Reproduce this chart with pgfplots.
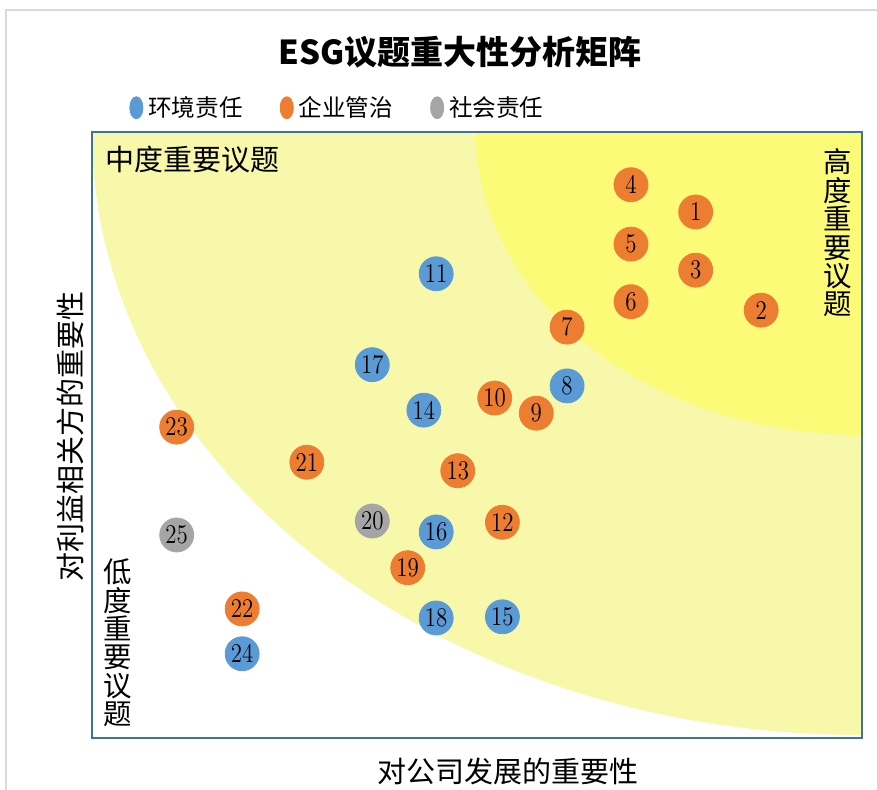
\documentclass[border=0pt]{standalone}
\usepackage{pgfplots}
\pgfplotsset{compat=1.18}
\usepackage{fontspec}
\newfontfamily\cjk{Noto Sans CJK SC}
\definecolor{cblue}{HTML}{5B9BD5}
\definecolor{corange}{HTML}{ED7D31}
\definecolor{cgray}{HTML}{A5A5A5}
\definecolor{paley}{HTML}{F8F8AA}
\definecolor{brighty}{HTML}{FBFB78}
\definecolor{axblue}{HTML}{41719C}
\definecolor{frame}{HTML}{D9D9D9}
\newcommand{\legtext}[1]{\scalebox{1.18}{\cjk #1}}

\pgfplotstableread{
x y label
6.17 5.81 8
4.47 7.66 11
4.31 5.41 14
5.33 2.00 15
4.47 3.40 16
3.64 6.16 17
4.47 1.98 18
1.95 1.39 24
}\envdata
\pgfplotstableread{
x y label
7.84 8.68 1
8.69 7.06 2
7.84 7.72 3
7.00 9.13 4
7.00 8.15 5
7.00 7.20 6
6.17 6.78 7
5.77 5.36 9
5.23 5.61 10
5.33 3.56 12
4.75 4.41 13
4.10 2.81 19
2.79 4.55 21
1.95 2.13 22
1.10 5.13 23
}\govdata
\pgfplotstableread{
x y label
3.64 3.58 20
1.10 3.35 25
}\socdata

\begin{document}
\begin{tikzpicture}
\path[use as bounding box] (0,0) rectangle (438.5pt,395pt);
\draw[frame, line width=1pt] (3pt,-10pt) -- (3pt,390pt) -- (450pt,390pt);
\begin{scope}
\clip (46pt,26pt) rectangle (431pt,329pt);
\fill[paley] (431pt,329pt) ellipse [x radius=385pt, y radius=301.5pt];
\fill[brighty] (431pt,329pt) ellipse [x radius=193pt, y radius=151.5pt];
\end{scope}
\begin{axis}[
  at={(46pt,26pt)}, anchor=south west,
  width=385pt, height=303pt, scale only axis,
  xmin=0, xmax=10, ymin=0, ymax=10,
  xtick=\empty, ytick=\empty,
  axis line style={axblue, line width=1pt},
  clip=false,
  xlabel={\cjk 对公司发展的重要性},
  ylabel={\cjk 对利益相关方的重要性},
  xlabel style={font=\fontsize{14.5}{14.5}\selectfont, at={(axis description cs:0.54,-0.056)}, anchor=center},
  ylabel style={font=\fontsize{14.5}{14.5}\selectfont, at={(axis description cs:-0.0286,0.497)}, anchor=center},
  legend style={at={(axis description cs:0.048,1.04)}, anchor=west, draw=none, fill=none,
    inner sep=0pt,
    nodes={inner xsep=2.5pt, inner ysep=1.5pt},
    /tikz/every even column/.append style={column sep=16pt}},
  legend columns=3,
  every axis plot/.append style={only marks, mark=*, mark size=8.5pt,
    point meta=explicit symbolic,
    nodes near coords={\scalebox{0.85}[1]{\pgfplotspointmeta}},
    nodes near coords align=center,
    every node near coord/.append style={font=\fontsize{13.5}{13.5}\selectfont, text=black, inner sep=0pt}},
]
\addplot[color=cblue, mark options={draw=none, fill=cblue},
  legend image code/.code={\fill[cblue] (0pt,0pt) ellipse [x radius=3.3pt, y radius=5.5pt];}]
  table[x=x, y=y, meta=label] {\envdata};
\addlegendentry{\legtext{环境责任}}
\addplot[color=corange, mark options={draw=none, fill=corange},
  legend image code/.code={\fill[corange] (0pt,0pt) ellipse [x radius=3.3pt, y radius=5.5pt];}]
  table[x=x, y=y, meta=label] {\govdata};
\addlegendentry{\legtext{企业管治}}
\addplot[color=cgray, mark options={draw=none, fill=cgray},
  legend image code/.code={\fill[cgray] (0pt,0pt) ellipse [x radius=3.3pt, y radius=5.5pt];}]
  table[x=x, y=y, meta=label] {\socdata};
\addlegendentry{\legtext{社会责任}}
\end{axis}
\node[anchor=center, inner sep=0pt] at (230pt,369pt) {\cjk\bfseries\fontsize{16.5}{16.5}\selectfont ESG议题重大性分析矩阵};
\node[anchor=west, inner sep=0pt] at (52.5pt,315pt) {\cjk\fontsize{14.5}{14.5}\selectfont 中度重要议题};
\node[align=center, inner sep=0pt, font=\cjk\fontsize{14.2}{14.2}\selectfont] at (419pt,278.5pt) {高\\度\\重\\要\\议\\题};
\node[align=center, inner sep=0pt, font=\cjk\fontsize{14.2}{14.2}\selectfont] at (59pt,73.5pt) {低\\度\\重\\要\\议\\题};
\end{tikzpicture}
\end{document}
